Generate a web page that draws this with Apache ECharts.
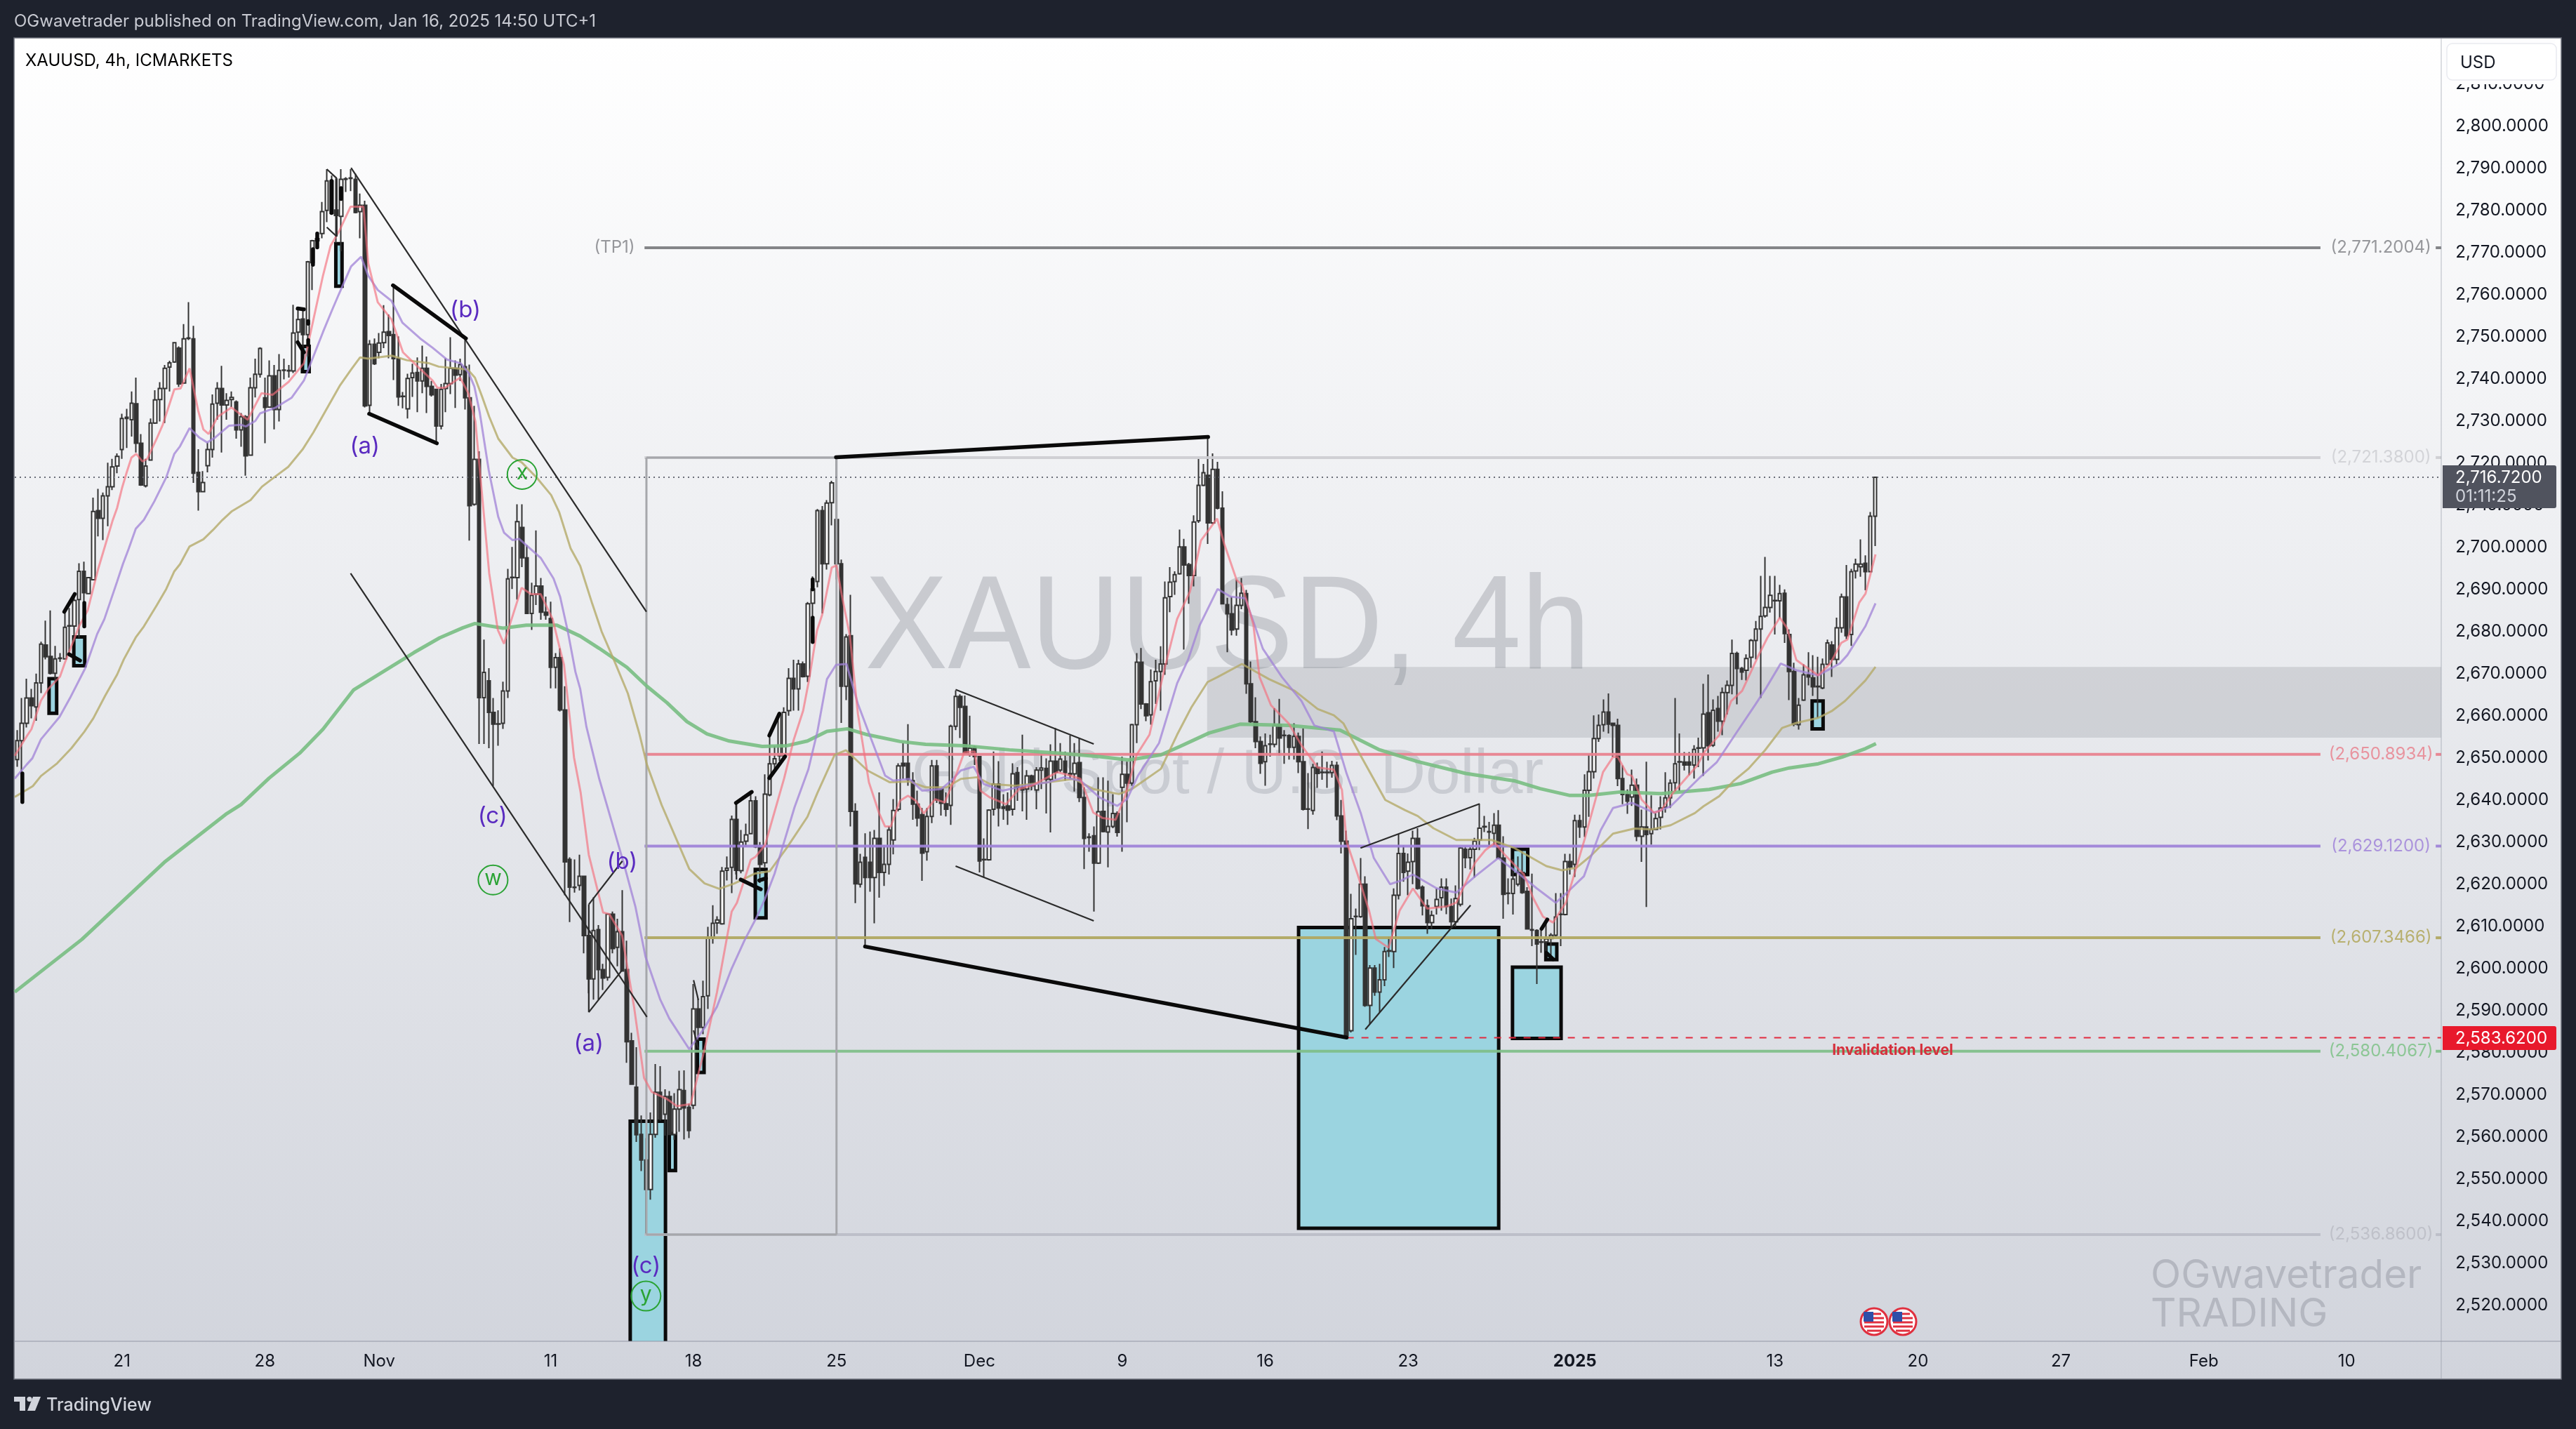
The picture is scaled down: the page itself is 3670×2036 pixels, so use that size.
<!DOCTYPE html>
<html><head><meta charset="utf-8">
<style>html,body{margin:0;padding:0;background:#1e222d}#c{width:3670px;height:2036px}</style>
<script src="https://cdn.jsdelivr.net/npm/echarts@6/dist/echarts.min.js"></script>
</head><body><div id="c"></div>
<script>
// candles: [open, high, low, close]
const candlesRead = [
[2649.3,2656.3,2647.6,2653.8],[2653.8,2663.9,2639.2,2657.9],[2657.9,2668.5,2656.9,2663.9],[2663.9,2666.1,2659.1,2662.1],[2661.8,2669.7,2658.5,2667.5],
[2667.5,2677.3,2665.1,2676.7],[2676.5,2682.3,2673.1,2673.7],[2673.8,2684.7,2669.5,2669.8],[2669.8,2676.3,2667.8,2673.2],[2673.3,2674.6,2672.5,2673.4],
[2673.2,2684.4,2673.1,2680.7],[2681,2685.3,2674.3,2681.1],[2681,2688.6,2677.3,2687.1],[2687.3,2695.9,2678.2,2694],[2694,2696.3,2680.9,2688.9],
[2688.7,2692.6,2688.6,2692.5],[2692,2711.5,2691.9,2708.2],[2708.4,2713.6,2702.3,2706.6],[2706.6,2712.7,2701.4,2711.9],[2711.9,2719.8,2704.7,2714.1],
[2714.1,2720.7,2713.3,2718.8],[2719,2722,2717.3,2721.3],[2722.9,2731.4,2720.7,2730.3],[2730.6,2732.6,2723.3,2730.3],[2730,2736.7,2726,2733.9],
[2733.8,2740,2722.2,2724.4],[2724.4,2726.6,2714.3,2714.5],[2714.3,2720.7,2713.9,2719],[2720.4,2730.3,2720.3,2729.2],[2729.2,2737,2729,2734.7],
[2734.8,2738.9,2729.6,2737.4],[2737.4,2743,2729.2,2742.2],[2742.5,2744,2736.7,2743.5],[2743.7,2748.3,2743.5,2748.3],[2747,2747.4,2737.8,2738.5],
[2738.7,2752.7,2738.5,2749.2],[2749.3,2757.9,2748.9,2749.4],[2749.2,2752.3,2715,2717.3],[2717.5,2723,2708.4,2712.9],[2712.9,2717.8,2712.9,2715.1],
[2719.1,2724.6,2717.5,2722.9],[2722.9,2736,2721,2733.7],[2733.9,2738.9,2730,2737.4],[2737.4,2742.8,2722.2,2733.5],[2733.5,2736.3,2730,2734.6],
[2734.8,2736.7,2733,2735.3],[2734.2,2734.6,2725.5,2727.6],[2727.6,2731.6,2723.6,2730.7],[2730.7,2731.1,2716.7,2721.4],[2721.6,2740,2721.4,2737.6],
[2737.6,2744.5,2735.3,2740.8],[2740.8,2747.2,2740,2746.9],[2735.2,2740,2724.4,2732.9],[2733,2744.1,2732.9,2740.4],[2740.4,2743,2727.7,2732.4],
[2732.4,2745.6,2729.6,2741.7],[2741.7,2744.5,2739.6,2741.8],[2741.6,2743,2740,2741.7],[2741.6,2757.3,2741.1,2750.6],[2750.8,2756.4,2748.6,2753.8],
[2753.9,2756,2746,2750.2],[2750.2,2767.7,2745,2767.5],[2767.3,2772.7,2760.8,2772.5],[2772.5,2774.6,2771,2773],[2774.2,2781.7,2773.1,2779.4],
[2779.7,2789.5,2776.9,2786.7],[2786.7,2788,2779,2779],[2779.8,2787.3,2772,2778.5],[2778.3,2789.5,2770,2787.1],[2787.1,2787.6,2784.1,2787.2],
[2787.3,2789.5,2784.3,2787.4],[2787.1,2788.4,2779,2779.2],[2779.4,2783.7,2773.1,2780.9],[2780.9,2782,2732.9,2733.3],[2733.4,2748.9,2731.4,2747.9],
[2747.9,2749.3,2743,2743.3],[2746,2750.6,2744.6,2748.2],[2748.3,2757.2,2747,2750.8],[2750.9,2755,2744.6,2750],[2750.2,2762,2739.4,2744.5],
[2744.5,2749.8,2733.3,2735.4],[2735.5,2736.6,2732.7,2735.6],[2732.6,2740.9,2730.3,2739.8],[2740,2743.3,2735.4,2741.1],[2741.2,2744.8,2731.8,2739.2],
[2739.2,2747.6,2736.3,2742.2],[2742.2,2745,2731.6,2737.9],[2737.9,2739.2,2735.5,2735.9],[2737.2,2737.3,2724.3,2728.5],[2728.5,2738.5,2727.7,2737.2],
[2737.4,2744.6,2731.8,2738.6],[2738.6,2749.6,2736.1,2742.2],[2742.2,2744.1,2732.8,2740.6],[2740.7,2744.5,2739.2,2743.1],[2742.6,2749,2732.4,2735.2],
[2735.2,2743.1,2701.3,2709.6],[2709.9,2733.3,2709.6,2720.6],[2720.6,2722.5,2653,2664],[2664,2677.8,2653,2670],[2668,2671,2652,2660.5],
[2660.5,2663.9,2643,2657.7],[2657.7,2661,2652.6,2657.8],[2657.9,2667.8,2656.6,2665.6],[2665.6,2694.6,2663.9,2692.2],[2692.5,2699.8,2689.8,2692.6],
[2692.5,2709.9,2687.3,2705.8],[2704.4,2709.9,2695,2697.2],[2697.2,2700.2,2684,2684],[2684,2691.3,2680.1,2688.3],[2688.6,2703.7,2686,2690.5],
[2690.5,2692.4,2682.5,2684.3],[2684.3,2688,2682.5,2683.6],[2682.8,2686.8,2666.2,2671.2],[2671.2,2674.6,2666.2,2673.5],[2673.5,2675.7,2660.7,2661.1],
[2661.1,2666.7,2617.1,2625],[2625.6,2626.1,2610.7,2619],[2619,2625.6,2617.7,2618.9],[2619.4,2626.7,2618.2,2621.6],[2621.6,2621.7,2603.3,2607.5],
[2607.5,2609,2593.8,2597.2],[2597.2,2616.6,2592.3,2608.7],[2608.9,2610,2592.3,2599.4],[2599.4,2600.8,2594.6,2597.4],[2597.6,2612.7,2596.8,2612.6],
[2612.6,2613.2,2603.3,2604.4],[2604.7,2611.5,2600.2,2608.4],[2608.4,2618.3,2599,2599.1],[2599.4,2606.3,2577.3,2582.3],[2582.5,2584.4,2572.1,2572.2],
[2571.5,2581,2558.5,2560.2],[2560.3,2564.8,2551.6,2554.2],[2554.2,2559.4,2536.5,2547.2],[2547.2,2565.5,2544.8,2560.3],[2560.3,2577,2559.5,2570.3],
[2570.3,2576.5,2563.6,2564],[2565.1,2571,2560,2569.3],[2569.3,2570.6,2560.2,2560.3],[2560.3,2570.1,2559,2566.3],[2566.3,2575.4,2560.9,2570.9],
[2570.7,2575.5,2559.1,2566.6],[2566.7,2567.6,2559.4,2561.2],[2567.2,2596,2566.3,2590.1],[2590.1,2592.5,2582.6,2585.7],[2585.7,2596.8,2584.1,2593],
[2593.2,2609.6,2590.1,2606.9],[2607,2614.7,2605.6,2610.4],[2610.5,2612.1,2607.9,2611.2],[2610.3,2623.8,2610.1,2622.8],[2623,2626.3,2620.6,2623.5],
[2623.7,2636,2617.6,2635.1],[2635.1,2639.2,2622,2623],[2622.9,2632.6,2622.3,2629.7],[2629.9,2634.1,2628.6,2631.4],[2631.7,2641.6,2631.6,2639.5],
[2639.5,2640.6,2628.3,2628.6],[2628.6,2629.7,2620,2624.4],[2624.8,2645.8,2623.7,2641.1],[2640.9,2654.9,2640.6,2648.3],[2648.3,2652.5,2646.9,2649.5],
[2650.2,2660.5,2649,2660],[2650.2,2661.7,2650,2660.5],[2660.9,2671,2659.7,2668.6],[2668.6,2673,2660.9,2666.1],[2666.1,2673,2660.9,2672],
[2672,2672.6,2668.8,2669],[2669.1,2686.7,2667.7,2686.3],[2686.4,2692.8,2677.2,2689.8],[2691.6,2708.8,2690.2,2708.4],[2708.4,2709.5,2684,2695.8],
[2695.8,2710.9,2694.4,2710.2],[2710.3,2715.5,2704.9,2715],[2706.3,2721.0,2692.1,2695.8],[2695.8,2696.8,2658,2666.7],[2666.7,2679.1,2663.4,2678.4],
[2678.7,2688.4,2633.4,2637],[2637,2638.9,2615.2,2619.8],[2619.7,2626.9,2618.9,2624.9],[2626.1,2631.8,2605.3,2621.3],[2624.9,2632.2,2617.9,2621.3],
[2621.3,2632.6,2610.4,2630.6],[2630.6,2641.5,2616.5,2622.5],[2622.5,2629,2619.3,2624.4],[2624.4,2633.4,2622,2632.6],[2630.2,2639.9,2626.8,2637.2],
[2637.5,2648.4,2637,2647.8],[2648.4,2653.2,2644.7,2647.8],[2648.4,2657.7,2643.1,2644.6],[2644.3,2646.3,2635,2638.7],[2638.7,2641.9,2633.4,2635.4],
[2636.2,2637.8,2620.5,2627.1],[2627.4,2637.8,2625.3,2635.8],[2635.8,2649.2,2634.2,2647.8],[2647.8,2649.2,2639,2639.7],[2642.3,2642.4,2636,2638.9],
[2638.8,2641.5,2635.8,2637.5],[2638.4,2657.6,2633.8,2657.2],[2657.2,2665.7,2656.3,2664.3],[2664.3,2664.8,2654.4,2661.7],[2661.9,2664.5,2650.6,2650.8],
[2650.5,2659.7,2650,2652],[2652.2,2652.6,2648,2650],[2650,2650.1,2622.5,2625.2],[2625.5,2630.6,2621.3,2625.6],[2625.5,2637.5,2625.3,2637.3],
[2637.5,2651.2,2636,2643.5],[2643.5,2648.9,2633.4,2637.8],[2638.1,2641.1,2635,2637.7],[2638.3,2641.5,2633.8,2637.3],[2637.5,2648.4,2636,2645.9],
[2646.2,2647.5,2639.5,2642.7],[2642.7,2655.2,2637,2642.1],[2642.3,2646.8,2635,2645.4],[2645.4,2645.7,2642,2643.1],[2642.1,2647.5,2637.5,2646.8],
[2646.8,2650.8,2642.3,2647.3],[2647.2,2649.6,2636.5,2644.6],[2644.6,2652.9,2632,2648.9],[2648.9,2656.8,2644.7,2646.3],[2646.8,2653.2,2646.3,2649.4],
[2648.9,2651.2,2644.3,2646.2],[2646,2655,2644.7,2645.7],[2645.9,2653.2,2641.7,2648.4],[2648.6,2654.4,2639.2,2640.3],[2640.3,2642.7,2623.3,2630.6],
[2630.8,2631.8,2627.4,2630.9],[2631.2,2633.4,2613.2,2624.7],[2624.7,2645.1,2624.5,2636.9],[2637,2645.1,2632,2632.2],[2632.1,2644.3,2623.7,2633.4],
[2633.4,2641.1,2633,2636.5],[2636.5,2637,2631,2632],[2642.7,2650,2627.4,2645.8],[2645.8,2648.8,2634.4,2643.7],[2643.7,2657.8,2643.1,2657.6],
[2657.6,2674.6,2653.2,2672.4],[2672.4,2675.8,2661.3,2662.5],[2662.5,2662.7,2658.4,2659.7],[2659.9,2670.7,2657.6,2667.8],[2668,2673,2662.5,2670.2],
[2670.2,2676.2,2660.9,2672],[2672,2691.6,2669.4,2687.7],[2688,2695,2684.3,2691.4],[2691.6,2694,2688.4,2693.2],[2693.4,2703.9,2693.2,2699.8],
[2699.8,2701.7,2675.4,2695.5],[2695.6,2696,2686.3,2693],[2693,2707.3,2690.4,2705.7],[2706,2720.7,2705.5,2714.4],[2714.4,2719.5,2714.2,2717.4],
[2716.8,2725.9,2700.5,2705.5],[2705.5,2722,2705.2,2718.2],[2718.2,2720,2708.7,2709],[2709,2713,2686.2,2686.3],[2686.1,2687.7,2674.8,2683.9],
[2683.9,2687.9,2678.8,2680.1],[2680.3,2692,2678.7,2685.9],[2685.9,2692.4,2685,2688.8],[2688.7,2689.6,2664.9,2667.3],[2667.3,2672.6,2658,2658.3],
[2658.3,2664.1,2652,2653.6],[2653.6,2654.8,2645.9,2648.4],[2648.8,2655.5,2643.1,2652.6],[2652.9,2655.2,2650,2653],[2652.9,2661.5,2652.2,2657.4],
[2657.6,2663.7,2650.3,2654.4],[2655.1,2656.3,2648.3,2655],[2655,2655.3,2649.3,2652.2],[2652.2,2657.9,2649.3,2654.8],[2654.8,2655.7,2646.1,2648.8],
[2648.8,2656.7,2637.2,2637.5],[2637.6,2646.1,2632.8,2637.5],[2637.2,2648.3,2636.2,2647.4],[2647.4,2648.6,2642.6,2646],[2646.2,2651.2,2644.5,2646.3],
[2646.2,2648.8,2642.6,2646.3],[2646.2,2649,2645,2647.9],[2647.9,2648.8,2634.9,2635.9],[2635.9,2639.7,2627,2629.9],[2629.9,2632.4,2583.3,2583.8],
[2584.9,2617.4,2584.5,2611.5],[2612,2613.9,2602.9,2612.1],[2612,2625.9,2611.7,2619.7],[2619.7,2621.6,2590.6,2590.9],[2590.9,2600.5,2586.5,2599.8],
[2599.8,2600.5,2593.2,2594.1],[2594.1,2600.8,2589.3,2597],[2597,2604.8,2595.5,2603.7],[2603.8,2607.2,2602.4,2603.9],[2603.7,2618.7,2599.8,2617.1],
[2617.1,2631.6,2616.1,2627],[2627,2628.9,2620.3,2622.5],[2622.8,2627,2617.1,2624.9],[2625.1,2632.4,2619.7,2630.6],[2630.6,2633,2618.4,2618.7],
[2619,2619.4,2612.3,2614.6],[2614.6,2616.1,2607.9,2610.6],[2610.6,2613.4,2609.1,2612.3],[2614.4,2618.7,2612.5,2616.1],[2616.5,2621.1,2613.4,2619],
[2619,2621.1,2612.6,2614.4],[2614.4,2616.3,2609.6,2610.8],[2610.8,2619.4,2609.6,2616.3],[2614.9,2628.6,2614.4,2628.3],[2628,2628.7,2623.5,2626],
[2626,2628.6,2623.2,2628],[2628,2630.7,2621.3,2629.9],[2630.2,2638.8,2627.8,2633],[2633.3,2635.9,2632.1,2633.4],[2632.1,2634.5,2628.5,2632.2],
[2631.8,2636.6,2628.7,2633.7],[2633.7,2637.3,2625.7,2625.9],[2625.9,2631.1,2611.5,2617.3],[2617.5,2621.1,2614.9,2617.6],[2617.5,2625.7,2612.5,2620.9],
[2619.7,2626.3,2619.2,2622.5],[2622.5,2627.6,2617.4,2617.7],[2618,2619,2608.9,2609.1],[2608.9,2622.2,2605,2608.8],[2608.7,2609,2596,2605.5],
[2605.9,2608.7,2603.4,2606],[2606,2611.1,2603,2606.7],[2606.8,2608.1,2602.6,2607.6],[2607.6,2617.6,2607.3,2611.9],[2612.5,2617.6,2605,2612.6],
[2612.5,2626.9,2612.3,2625.1],[2625.1,2626.9,2622,2623.8],[2624.4,2636.2,2621.4,2634.8],[2634.8,2636.2,2630.7,2633.3],[2633.3,2645.8,2630.9,2642],
[2642,2650.5,2635.7,2646.4],[2646.4,2659.8,2644.8,2654.3],[2654.3,2660,2653.5,2657.4],[2657.6,2663.6,2655.9,2660.6],[2660.6,2665,2655.5,2657.7],
[2657.9,2658,2649.9,2657.4],[2657.4,2659,2643,2644.8],[2644.8,2647.9,2638.7,2641],[2641,2642.2,2636.4,2639.4],[2640.4,2646.9,2638.3,2643.2],
[2643.2,2644.8,2629.9,2631.1],[2631.1,2637.4,2625,2633.3],[2633.3,2648.8,2614.3,2631.5],[2631.7,2640.8,2629.1,2632.7],[2632.7,2636.6,2632.6,2635.3],
[2635.6,2640.6,2632.7,2637.8],[2638,2646.3,2636.7,2640.2],[2640.2,2644.6,2637.8,2643.7],[2643.8,2663.9,2641.8,2648.3],[2648.7,2655.5,2641.8,2648.8],
[2648.7,2651.1,2646.7,2648],[2648.7,2651.1,2645.6,2648],[2648,2652.7,2644.8,2651.7],[2652,2654.5,2647.5,2652.1],[2652.1,2667.3,2645.4,2660.1],
[2660.4,2669.5,2649.1,2652.6],[2652.7,2663.6,2652.3,2661],[2661.4,2664.4,2655.9,2658.4],[2658.4,2666.4,2655.1,2665.2],[2665.2,2668.1,2660,2666.9],
[2666.9,2677.8,2664.8,2674.5],[2674.5,2674.9,2662.4,2670.9],[2670.9,2671.3,2668.2,2670.1],[2670.5,2674.3,2668.1,2673.3],[2673.6,2677.9,2671.1,2677.6],
[2677.6,2682.2,2673.1,2680.3],[2680.3,2692.9,2663.9,2683.3],[2683.4,2697.4,2683,2685.4],[2685.4,2692.9,2684.2,2688.3],[2687,2692.9,2679,2687.1],
[2687,2690.8,2682.8,2688.7],[2688.8,2689.7,2677,2679.2],[2679,2680.2,2663.4,2670.2],[2670.2,2672.3,2657.2,2657.7],[2657.6,2663.9,2656.4,2662.2],
[2663.4,2671.9,2663.2,2669.4],[2669.4,2674.8,2666.9,2668.9],[2668.7,2674.1,2664.4,2666.6],[2666.6,2673.7,2659.2,2666.7],[2666.3,2673.3,2666,2671.9],
[2671.9,2677.8,2671.7,2677],[2676.5,2677.4,2668.9,2673.1],[2673.1,2683,2671.9,2680.6],[2680.6,2688.7,2679.4,2687.9],[2687.9,2695.5,2677.9,2678.7],
[2679,2694.6,2676.3,2693.9],[2694.1,2697,2692.3,2695.7],[2695.1,2701.6,2692.7,2695.7],[2695.9,2697.8,2689.5,2693.9],[2693.9,2708.1,2693.8,2707.1],
[2707.1,2716.35,2700,2716.35]
];
const barSlots = 510;
const tickIndex = [22,52,76,112,142,172,202,232,262,292,327,369,399,429,459,489];
const tickText  = ['21','28','Nov','11','18','25','Dec','9','16','23','2025','13','20','27','Feb','10'];
const priceTicks = [2520,2530,2540,2550,2560,2570,2580,2590,2600,2610,2620,2630,2640,2650,2660,2670,2680,2690,2700,2710,2720,2730,2740,2750,2760,2770,2780,2790,2800,2810];
// moving averages: [bar index, price]
const maFast = [[-0.5,2650.2],[2,2654.8],[3,2656.5],[5,2663.3],[6.5,2666],[9,2669],[10,2672.2],[13,2680.9],[14.8,2684.7],[17,2694.5],[20,2705.9],[21,2709.1],[22,2713.7],[23,2717.5],[24,2721],[25,2721.9],[26.3,2720.1],[27.3,2720.7],[29.3,2725.5],[30.6,2728.9],[33,2737.2],[34.3,2737.4],[36.2,2742.2],[38,2732.2],[39.1,2727.7],[40.2,2726.6],[42.1,2730.7],[45,2732.9],[48.4,2730],[51.3,2736.3],[53.6,2735.9],[57,2739],[60.2,2743.4],[64.2,2764.2],[65.8,2771.3],[67.7,2775],[70,2780.6],[72.7,2780.6],[73.7,2767.2],[75.7,2757.9],[78.6,2753.8],[81,2746],[83.9,2742.8],[87.2,2739.3],[88.2,2737.6],[89.8,2737.6],[93,2740],[94.7,2736.3],[96.2,2729.6],[99.1,2693.5],[100.9,2680.1],[102.2,2676.8],[103.5,2681.6],[105.9,2690.1],[107.9,2688.6],[109.9,2688.6],[112.4,2682.7],[114,2675.3],[114.8,2671.8],[116.9,2649.8],[118.3,2641.4],[120,2626.7],[123,2613],[124.3,2612.6],[127,2607.5],[129.5,2590.6],[131.6,2573.7],[133.2,2570.4],[136.4,2568.7],[138.5,2567],[141.4,2567.5],[144.3,2580.5],[146.9,2594],[150,2613.2],[151.1,2615.3],[154,2625.5],[155,2626.2],[157,2629],[161,2644.8],[163,2653.9],[165,2660.9],[166.3,2668.6],[167.9,2679.9],[169,2683.7],[171,2694.9],[172,2695.4],[173.1,2688.4],[174.8,2678.7],[176.5,2660.1],[178.8,2643.9],[180.9,2636.7],[182.2,2633.4],[183.4,2633.4],[185.3,2639.5],[187,2640.7],[188.7,2639.5],[190.3,2636.5],[192.7,2639.9],[194.7,2639.1],[196.8,2644.7],[198.8,2651],[201,2651.2],[202.2,2641.9],[204.2,2640.3],[207.6,2638.7],[210.3,2642.3],[213,2643.1],[215,2644.3],[218.4,2646.3],[221.1,2645.5],[223.2,2644.7],[225.9,2636.7],[227.9,2635.4],[230.6,2635],[232.6,2640.7],[235,2650.4],[237.7,2655.2],[240.8,2670.6],[243.5,2682.7],[246.2,2689.2],[248.5,2701.3],[251.9,2706.5],[253.4,2700.5],[256,2691.9],[257.1,2690.9],[259.5,2681.4],[260.8,2668.9],[263.2,2662.2],[266.9,2657.9],[269.6,2652.7],[273,2647.4],[276.4,2646.9],[278.1,2642.1],[279.1,2629.7],[281.4,2622],[283.8,2613.4],[285.2,2606.7],[287.9,2604.6],[290.2,2613.4],[293,2618.7],[296,2613.9],[300,2614.4],[302.1,2615.3],[306.1,2624.9],[308.2,2627.8],[310.2,2629.5],[312.2,2626.8],[316.3,2622],[318.3,2616.3],[320.3,2612],[322.4,2610.6],[325.1,2615.3],[329.1,2630.6],[332.9,2646.3],[335,2649.9],[336,2649.9],[338,2645.8],[339,2645.4],[341,2639.8],[343.6,2636.7],[345.1,2637.2],[347.6,2641.4],[349.2,2643.4],[352.7,2647.9],[354.2,2651.1],[357.3,2655.1],[359.8,2663.2],[362.1,2665.6],[365.4,2673.7],[367.4,2678.2],[370,2683],[371.5,2680.6],[373.5,2672.9],[375,2671.7],[378.1,2669.3],[380.6,2672.1],[382.9,2677],[384.2,2677.8],[386.7,2686.6],[388,2688.7],[390.1,2698]];
const maMid = [[-0.5,2644.8],[2,2648.1],[3.2,2649.6],[5,2654.1],[8.9,2659.4],[11.1,2663.9],[14.3,2671],[16.8,2679.1],[18.3,2682.6],[21,2691.6],[22.2,2695.7],[23.4,2699.3],[24.9,2704.1],[26.6,2706.2],[28.8,2710.6],[31.3,2716.3],[33,2721.9],[34.2,2723.7],[36.2,2728],[38.2,2725.8],[39.9,2724.6],[41.6,2725.8],[44.5,2728.6],[47,2728.8],[48,2728.4],[50,2729.7],[51,2731.5],[54.3,2732.9],[57.6,2735.2],[60.2,2739.3],[64.2,2750.8],[66.1,2756],[67.5,2759.7],[70.1,2766.4],[72.2,2768.7],[73.7,2764.2],[75.7,2760.8],[78.6,2758.2],[80.9,2753],[84.6,2749.3],[87.2,2747.1],[90.2,2744.3],[93.1,2743.4],[94.8,2741.1],[96,2737.8],[97.1,2731.8],[99,2718],[101,2706.9],[102.2,2703.2],[104,2701.4],[105.4,2701.7],[109.9,2697.2],[112.6,2692.3],[114,2687.9],[115.6,2679.7],[117.2,2670.1],[118.2,2666.1],[119.5,2657.1],[122.2,2644.7],[124.8,2634.6],[127.4,2624.4],[129.8,2614.3],[131.9,2602.5],[135,2592.3],[136.9,2587.8],[141.1,2580.5],[144.3,2585.6],[146.9,2590.6],[150,2599.7],[152.7,2606.4],[155.3,2612],[156.9,2616],[159,2622.2],[161.1,2630.1],[163.2,2638],[166.1,2647],[168,2656],[170,2668.4],[171.9,2671.8],[174.1,2672],[176.5,2662.5],[179.2,2654.4],[182.2,2645.5],[183.9,2644.3],[187.3,2644.7],[190,2641.9],[194,2642.3],[196.1,2644.3],[198.1,2646.7],[200.8,2647.6],[202.9,2643.5],[206.9,2641.9],[211.7,2643.1],[216.4,2643.9],[219.8,2645.1],[223.2,2644.3],[227.2,2640.3],[230.9,2638.3],[233,2639.9],[235.3,2645.5],[239.7,2653.2],[243.5,2667.4],[245.8,2673],[248.2,2681.1],[252,2689.8],[254.7,2688],[257.8,2687.6],[261.5,2675.6],[265.5,2668.9],[269.6,2663.2],[272.3,2657.4],[276.4,2656],[279.1,2645.9],[282.1,2636.4],[284.8,2625.9],[288.2,2619.7],[290.6,2620.6],[293,2622],[298,2618.7],[302.1,2617.7],[306.1,2621.6],[310.9,2625.9],[314.9,2622.5],[319,2618.7],[323,2615.3],[325.8,2618.2],[328.9,2621.6],[332.4,2632.5],[335,2637.8],[339,2639],[343.6,2636.7],[347.1,2638.2],[353.2,2645],[356.8,2648.7],[360.8,2655.5],[364.9,2662.4],[367.2,2666.4],[370.2,2672.1],[373.5,2670.5],[378.1,2669.3],[382.6,2672.1],[384.2,2674.1],[388,2681],[390.1,2686.4]];
const maSlow = [[-0.5,2640.4],[3.3,2643],[5,2645.4],[8.4,2648.4],[11.4,2652],[14.1,2655.9],[16,2659.1],[18.5,2664.5],[21,2669.5],[22.4,2673.1],[24.9,2678.3],[26.6,2680.9],[29.3,2685.9],[31.3,2689.8],[33,2694],[34.2,2695.7],[36.2,2699.9],[39.1,2701.6],[41.1,2703.8],[43.1,2706.2],[45,2708.2],[49,2710.9],[51.4,2714.1],[54.3,2716.6],[56.9,2718.8],[59.9,2722.9],[62.2,2727],[64.8,2732.2],[67.8,2738.2],[70.1,2741.9],[72,2744.8],[73.7,2744.5],[78.6,2745.2],[81.9,2744.1],[86.5,2743.4],[88.5,2742.6],[94.6,2741.9],[96.1,2740],[97.6,2735.5],[99.1,2730.7],[101,2725.5],[104,2721],[105.9,2719.9],[109.1,2716.2],[112.1,2712.1],[113.8,2708],[116.2,2699.4],[118.2,2695.3],[120.7,2686.4],[122.7,2679.7],[125.3,2672.9],[128.2,2665],[130.6,2655.5],[132.2,2648.1],[135.3,2638.5],[138.5,2630.1],[141.1,2623.3],[144.3,2619.9],[147.4,2618.6],[150.6,2619.9],[154.8,2622.2],[158,2622.8],[161.6,2628.4],[165.9,2635.7],[168,2641.4],[171.6,2650.4],[174,2651.5],[178.5,2646.7],[183.2,2643.9],[187.3,2644.1],[190.7,2642.7],[195.1,2642.7],[198.1,2644.7],[201.5,2645.1],[204.2,2643.5],[209.6,2643.1],[216.4,2643.9],[221.8,2644.7],[225.9,2642.3],[231.3,2641.1],[234,2642.3],[240.1,2647.1],[243.5,2655.2],[246.5,2661.7],[249.9,2667.7],[252,2668.9],[257.1,2672],[262.8,2668.4],[268.2,2665.6],[273,2661.3],[276.4,2659.8],[278.4,2657.9],[281.8,2650.7],[287.2,2639.7],[291.3,2637.3],[294,2635.9],[297.3,2633],[302.1,2630.2],[309.5,2630.2],[314.3,2628.3],[321,2624],[324.3,2623],[327.3,2623.6],[330.4,2626.5],[335,2631.7],[339.5,2632.9],[343.1,2632.7],[347.1,2633.7],[352.2,2636.6],[354,2638.2],[357.3,2640.6],[360.3,2644.2],[363.4,2647.1],[366.9,2651.5],[370.5,2656.8],[373.5,2658],[378.1,2659.2],[380.9,2660.8],[383.7,2663.2],[388,2668.1],[390.1,2671.3]];
const maLong = [[-0.5,2594.1],[13.6,2606.6],[30.9,2624.9],[43.8,2636.3],[47,2638.6],[52.9,2644.9],[59.3,2650.8],[64.2,2656.5],[70.6,2665.8],[83.3,2674.7],[88.7,2678.2],[93.6,2680.6],[96.1,2681.6],[102,2680.5],[106.9,2681.2],[113.3,2681.2],[118.2,2678.6],[122.2,2675.7],[128,2671.2],[132.2,2666.7],[136.4,2662.8],[140.6,2658.3],[144.8,2655.4],[149.5,2653.7],[156.4,2652.4],[161.6,2652.6],[165.9,2653.7],[170,2656],[174.3,2656.6],[178.5,2655.2],[185.3,2653.6],[190.7,2652.9],[198.8,2652.6],[208.3,2651.6],[219.1,2650.8],[227.2,2650],[233.3,2649.2],[240.1,2650.4],[244.1,2652.4],[250.2,2655.6],[256.7,2657.7],[266.9,2657.4],[277.7,2656.3],[285.8,2651.7],[294,2648.8],[304.1,2646],[314.5,2644.2],[319.7,2642.4],[325.8,2640.8],[329.9,2640.8],[336.5,2641.6],[345.1,2641.2],[355.2,2642.2],[361.8,2643.6],[368.4,2646.3],[372,2647.3],[378.1,2648.3],[383.1,2649.9],[388,2651.9],[390.2,2653.1]];
// horizontal levels
const levelPrices = [2771.2004,2721.38,2650.8934,2629.12,2607.3466,2580.4067,2536.86];
const levelTexts  = ['(2,771.2004)','(2,721.3800)','(2,650.8934)','(2,629.1200)','(2,607.3466)','(2,580.4067)','(2,536.8600)'];
const levelColors = ['#7d7e82','#cdced2','#e8828f','#9f84d8','#b0a862','#7fbf89','#bcbec7'];
const levelTextColors = ['#96979b','#d3d4d8','#e8939e','#ab93dc','#b8b070','#8cc695','#bfc1c9'];
const lastPrice = 2716.72, invalidation = 2583.62;
// drawings, as [bar, price, bar, price]
const tealRead = [[128.7,2563.4,136.1,2500],[269,2609.4,311,2538],[313.9,2600,324.1,2583.1],[313.9,2628,317.1,2622],[320.9,2605.5,323.2,2601.8],[376.8,2663.2,379.1,2656.6],[6.7,2668.5,8.3,2660.3],[11.9,2678.4,14.2,2671.6],[59.9,2747.4,61.3,2741.4],[66.9,2771.8,68.2,2761.7],[136.9,2560.5,138.2,2551.7],[142.8,2582.9,144.2,2575],[154.95,2623.2,157.2,2611.7]];
const zoneRead = [249.8,2671.3,508.85,2654.5];
const thickRead = [[9.9,2684.4,12.1,2688.6],[10.9,2674.3,13.2,2672.8],[1.1,2646,1.1,2639.2],[14.1,2686.5,14.1,2680.9],[58.9,2756.4,60.2,2756.2],[58.9,2748.4,60.2,2746],[61.1,2753.4,61.1,2752.8],[61.1,2748.9,61.1,2747.8],[62.1,2770.5,62.1,2766.8],[63,2774.2,63,2770.9],[66,2786.7,66,2779.1],[68,2785,68,2782.4],[78.9,2761.9,94.2,2749.3],[73.9,2731.4,88.1,2724.4],[150.9,2639,154.2,2641.6],[151.9,2620.8,156.1,2618.5],[155.8,2620.6,157.2,2621.1],[157.9,2655,160,2660.2],[157.9,2644.9,161.2,2650],[167,2692.1,167,2689.7],[167,2683,167,2677.2],[171.9,2721.1,250,2725.9],[178,2604.9,279.1,2583.3],[321,2603.4,322.4,2601.9],[320,2609.1,321.2,2611.3]];
const thinRead = [[65,2789.5,67.1,2787.3],[67.1,2787.3,67.1,2773.5],[65,2775.7,67.1,2773.5],[70.1,2789.8,132.1,2684.4],[70,2693.5,132.2,2588.2],[120,2614.9,127.05,2625.2],[120,2589.3,127,2599.3],[120,2614.9,120,2589.3],[142,2596.9,143,2592.2],[142,2585,143,2580.6],[197,2665.9,226,2653],[197,2624,226,2611],[282,2628.3,307,2638.8],[283,2585.2,305.1,2614.7],[151,2639,151,2620.8]];
// wave labels: [bar, price]
const wavePoints = [[94.1,2756],[73,2723.7],[99.8,2635.8],[127,2625],[120,2581.8],[132,2529]];
const waveTexts = ['(b)','(a)','(c)','(b)','(a)','(c)'];
const cyclePoints = [[106,2717],[99.9,2620.7],[132,2521.9]];
const cycleTexts = ['x','w','y'];
// The prices above were read against the axis label centres, which sit a little above their true level.
const readOffset = 0.37;

const shiftBox = r => [r[0], r[1]+readOffset, r[2], r[3]+readOffset];
const shiftPt = r => [r[0], r[1]+readOffset];
const candles = candlesRead.map(c => c.map(v => v+readOffset));
const teal = tealRead.map(shiftBox), thick = thickRead.map(shiftBox), thin = thinRead.map(shiftBox);
const zone = shiftBox(zoneRead);

const FONT = 'Inter, "Noto Sans", sans-serif';
const END = 508.85, GAP = 483.5, LBL = 496.2, TICK = 507.7, START = 131.7;

const segRender = (list, width, color, dash) => (params, api) => {
  const r = list[params.dataIndex];
  const a = api.coord([r[0], r[1]]), b = api.coord([r[2], r[3]]);
  return {type:'line', shape:{x1:a[0],y1:a[1],x2:b[0],y2:b[1]},
    style:{stroke:color,lineWidth:width,lineCap:width>3?'round':'butt',lineDash:dash||null}, silent:true};
};
function segSeries(list,width,color,z,dash){
  return {type:'custom',xAxisIndex:1,yAxisIndex:0,z,clip:true,silent:true,
    renderItem:segRender(list,width,color,dash),data:list,encode:{x:[0,2],y:[1,3]}};
}
function rectSeries(list,fill,stroke,width,z){
  return {type:'custom',xAxisIndex:1,yAxisIndex:0,z,clip:true,silent:true,
    renderItem:(params,api)=>{
      const r=list[params.dataIndex];
      const a=api.coord([r[0],r[1]]),b=api.coord([r[2],r[3]]);
      return {type:'rect',shape:{x:a[0],y:a[1],width:b[0]-a[0],height:b[1]-a[1]},
        style:{fill,stroke,lineWidth:width},silent:true};
    },data:list,encode:{x:[0,2],y:[1,3]}};
}
function maSeries(pts,color,width){
  return {type:'line',xAxisIndex:1,yAxisIndex:0,data:pts.map(shiftPt),showSymbol:false,z:4,silent:true,
    lineStyle:{color,width,opacity:1},clip:true};
}
const levelSegs=[];const levelSegColors=[];
levelPrices.forEach((p,k)=>{
  levelSegs.push([START,p,GAP,p]);levelSegColors.push(levelColors[k]);
  levelSegs.push([TICK,p,END,p]);levelSegColors.push(levelColors[k]);
});
const darkBoxEdges=[[132.1,2721.38,172,2721.38],[132.1,2536.86,172,2536.86],[132.1,2721.38,132.1,2536.86],[172,2721.38,172,2536.86]];

const series=[
  rectSeries([zone],'rgba(120,123,134,0.22)',null,0,1),
  rectSeries(teal,'#9bd4e0','#0a0a0a',5,1),
  {type:'candlestick',xAxisIndex:0,yAxisIndex:0,z:2,silent:true,barWidth:5,
    data:candles.map(c=>[c[0],c[3],c[2],c[1]]),
    itemStyle:{color:'#ffffff',color0:'#333333',borderColor:'#333333',borderColor0:'#333333',borderWidth:2}},
  maSeries(maLong,'rgba(120,190,130,0.9)',5),
  maSeries(maSlow,'rgba(180,170,105,0.8)',3),
  maSeries(maMid,'rgba(160,130,215,0.75)',3),
  maSeries(maFast,'rgba(245,110,125,0.65)',3),
  {type:'custom',xAxisIndex:1,yAxisIndex:0,z:3,clip:true,silent:true,data:levelSegs,encode:{x:[0,2],y:[1,3]},
    renderItem:(params,api)=>{
      const r=levelSegs[params.dataIndex];
      const a=api.coord([r[0],r[1]]),b=api.coord([r[2],r[3]]);
      return {type:'line',shape:{x1:a[0],y1:a[1],x2:b[0],y2:b[1]},
        style:{stroke:levelSegColors[params.dataIndex],lineWidth:4,opacity:.95},silent:true};
    }},
  segSeries(darkBoxEdges,3,'#a6a7ab',3),
  segSeries([[-0.5,lastPrice,END,lastPrice]],2,'#6b6e78',3,[2,5]),
  segSeries([[279.1,invalidation,END,invalidation]],2,'#e22a3e',5,[10,11]),
  segSeries(thin,2.2,'#2b2b2b',5),
  segSeries(thick,5.5,'#0a0a0a',5),
  {type:'custom',xAxisIndex:1,yAxisIndex:0,z:6,silent:true,data:levelPrices.map(p=>[LBL,p]),encode:{x:0,y:1},
    renderItem:(params,api)=>{
      const k=params.dataIndex,c=api.coord([LBL,levelPrices[k]]);
      return {type:'text',x:c[0],y:c[1],style:{text:levelTexts[k],fill:levelTextColors[k],font:'24px '+FONT,align:'center',verticalAlign:'middle'},silent:true};
    }},
  {type:'custom',xAxisIndex:1,yAxisIndex:0,z:6,silent:true,data:wavePoints,encode:{x:0,y:1},
    renderItem:(params,api)=>{
      const k=params.dataIndex,c=api.coord(shiftPt(wavePoints[k]));
      return {type:'text',x:c[0],y:c[1],style:{text:waveTexts[k],fill:'#5a2bc0',font:'33px '+FONT,align:'center',verticalAlign:'middle'},silent:true};
    }},
  {type:'custom',xAxisIndex:1,yAxisIndex:0,z:6,silent:true,data:cyclePoints,encode:{x:0,y:1},
    renderItem:(params,api)=>{
      const k=params.dataIndex,c=api.coord(shiftPt(cyclePoints[k]));
      return {type:'group',x:c[0],y:c[1],silent:true,children:[
        {type:'circle',shape:{cx:0,cy:0,r:21},style:{fill:'none',stroke:'#2aa334',lineWidth:2}},
        {type:'text',style:{text:cycleTexts[k],fill:'#2aa334',font:'30px '+FONT,align:'center',verticalAlign:'middle',x:0,y:-2}}
      ]};
    }},
  {type:'custom',xAxisIndex:1,yAxisIndex:0,z:6,silent:true,data:[[393.7,2580.6]],encode:{x:0,y:1},
    renderItem:(params,api)=>{
      const c=api.coord([393.7,2580.6]);
      return {type:'text',x:c[0],y:c[1],style:{text:'Invalidation level',fill:'#d62f3c',font:'bold 21px '+FONT,align:'center',verticalAlign:'middle'},silent:true};
    }},
  {type:'custom',xAxisIndex:1,yAxisIndex:0,z:6,silent:true,data:[[125.4,2771.2]],encode:{x:0,y:1},
    renderItem:(params,api)=>{
      const c=api.coord([125.4,2771.2]);
      return {type:'text',x:c[0],y:c[1],style:{text:'(TP1)',fill:'#96979b',font:'24px '+FONT,align:'center',verticalAlign:'middle'},silent:true};
    }}
];

function flag(cx,cy){
  const kids=[{type:'circle',shape:{cx:0,cy:0,r:19},style:{fill:'#fff',stroke:'#e0303f',lineWidth:3}}];
  [-11,-5,1,7,13].forEach(dy=>kids.push({type:'line',shape:{x1:dy*dy>120?-10:-14,y1:dy,x2:dy*dy>120?10:14,y2:dy},style:{stroke:'#e0303f',lineWidth:3}}));
  kids.push({type:'rect',shape:{x:-15,y:-14,width:14,height:14},style:{fill:'#2f4fa8'}});
  return {type:'group',x:cx,y:cy,z:50,children:kids,silent:true};
}
const Z=100;
const graphic=[
  {type:'rect',z:-10,shape:{x:20,y:54,width:3629,height:1911},
    style:{fill:new echarts.graphic.LinearGradient(0,0,0,1,[{offset:0,color:'#ffffff'},{offset:1,color:'#d1d4dc'}]),stroke:'#6a6d78',lineWidth:1.5},silent:true},
  {type:'text',z:-5,x:1749,y:900,scaleX:0.932,style:{text:'XAUUSD, 4h',x:0,y:0,font:'190px "Liberation Sans", sans-serif',fill:'rgba(120,123,134,0.30)',align:'center',verticalAlign:'middle'},silent:true},
  {type:'text',z:-5,style:{text:'Gold Spot / U.S. Dollar',x:1749,y:1105,font:'89px "Liberation Sans", sans-serif',fill:'rgba(120,123,134,0.25)',align:'center',verticalAlign:'middle'},silent:true},
  {type:'text',z:-5,style:{text:'OGwavetrader',x:3064,y:1818,font:'56.5px '+FONT,fill:'#b4b7c0',verticalAlign:'middle'},silent:true},
  {type:'text',z:-5,style:{text:'TRADING',x:3064,y:1873,font:'56.5px '+FONT,fill:'#b4b7c0',verticalAlign:'middle'},silent:true},
  {type:'line',z:Z,shape:{x1:20,y1:1911,x2:3649,y2:1911},style:{stroke:'rgba(140,145,160,0.45)',lineWidth:2},silent:true},
  {type:'line',z:Z,shape:{x1:3478,y1:54,x2:3478,y2:1965},style:{stroke:'rgba(140,145,160,0.3)',lineWidth:2},silent:true},
  {type:'rect',z:Z,shape:{x:3480,y:56,width:160,height:64},style:{fill:'#fdfdfe'},silent:true},
  {type:'rect',z:Z+1,shape:{x:3486,y:62,width:156,height:52,r:8},style:{fill:'#fff',stroke:'#e9eaf0',lineWidth:1.5},silent:true},
  {type:'text',z:Z+2,style:{text:'USD',x:3505,y:90,font:'24px '+FONT,fill:'#131722',verticalAlign:'middle'},silent:true},
  {type:'rect',z:Z,shape:{x:3480,y:663,width:162,height:61,r:[0,3,3,0]},style:{fill:'#50535e'},silent:true},
  {type:'text',z:Z+1,style:{text:'2,716.7200',x:3498,y:681,font:'24px '+FONT,fill:'#ffffff',verticalAlign:'middle'},silent:true},
  {type:'text',z:Z+1,style:{text:'01:11:25',x:3498,y:708,font:'24px '+FONT,fill:'#d1d4dc',verticalAlign:'middle'},silent:true},
  {type:'rect',z:Z,shape:{x:3480,y:1462,width:162,height:34,r:[0,3,3,0]},style:{fill:'#e8192c'},silent:true},
  {type:'text',z:Z+1,style:{text:'2,583.6200',x:3498,y:1480,font:'24px '+FONT,fill:'#ffffff',verticalAlign:'middle'},silent:true},
  flag(2670,1883),flag(2711,1883),
  {type:'text',z:Z,style:{text:'OGwavetrader published on TradingView.com, Jan 16, 2025 14:50 UTC+1',x:20,y:31,font:'24px '+FONT,fill:'#c8cad2',verticalAlign:'middle'},silent:true},
  {type:'text',z:Z,style:{text:'XAUUSD, 4h, ICMARKETS',x:36,y:87,font:'24px '+FONT,fill:'#000',verticalAlign:'middle'},silent:true},
  {type:'polygon',z:Z,shape:{points:[[20,1990],[36,1990],[36,2010],[28,2010],[28,1997],[20,1997]]},style:{fill:'#d1d4dc'},silent:true},
  {type:'circle',z:Z,shape:{cx:42,cy:1993.5,r:3.6},style:{fill:'#d1d4dc'},silent:true},
  {type:'polygon',z:Z,shape:{points:[[47,1990],[58,1990],[50,2010],[39,2010]]},style:{fill:'#d1d4dc'},silent:true},
  {type:'text',z:Z,style:{text:'TradingView',x:66,y:2002,font:'500 25px '+FONT,fill:'#d1d4dc',verticalAlign:'middle'},silent:true}
];

const chart=echarts.init(document.getElementById('c'),null,{renderer:'canvas',width:3670,height:2036});
chart.setOption({
  animation:false,backgroundColor:'#1e222d',textStyle:{fontFamily:FONT},
  grid:{left:21,top:54,width:barSlots*6.787,height:1857,containLabel:false},
  xAxis:[
    {type:'category',data:Array.from({length:barSlots},(_,i)=>String(i)),boundaryGap:true,
      axisLine:{show:false},axisTick:{show:false},splitLine:{show:false},
      axisLabel:{show:true,margin:17,fontSize:24,color:'#131722',fontFamily:FONT,hideOverlap:false,
        interval:(idx)=>tickIndex.includes(idx),
        formatter:(v,idx)=>{const k=tickIndex.indexOf(+v);if(k<0)return '';return tickText[k]==='2025'?'{b|2025}':tickText[k];},
        rich:{b:{fontWeight:'bold',fontSize:24,color:'#131722',fontFamily:FONT}}}},
    {type:'value',min:-0.5,max:barSlots-0.5,show:false,position:'top',splitLine:{show:false}}
  ],
  yAxis:{type:'value',position:'right',min:2511.5333,max:2821.0333,scale:true,
    axisLine:{show:false},axisTick:{show:false},splitLine:{show:false},
    axisLabel:{margin:16,fontSize:24,color:'#131722',fontFamily:FONT,customValues:priceTicks,
      formatter:v=>{const s=String(Math.round(v));return s[0]+','+s.slice(1)+'.0000';}}},
  graphic:{elements:graphic},
  series
});
</script></body></html>
